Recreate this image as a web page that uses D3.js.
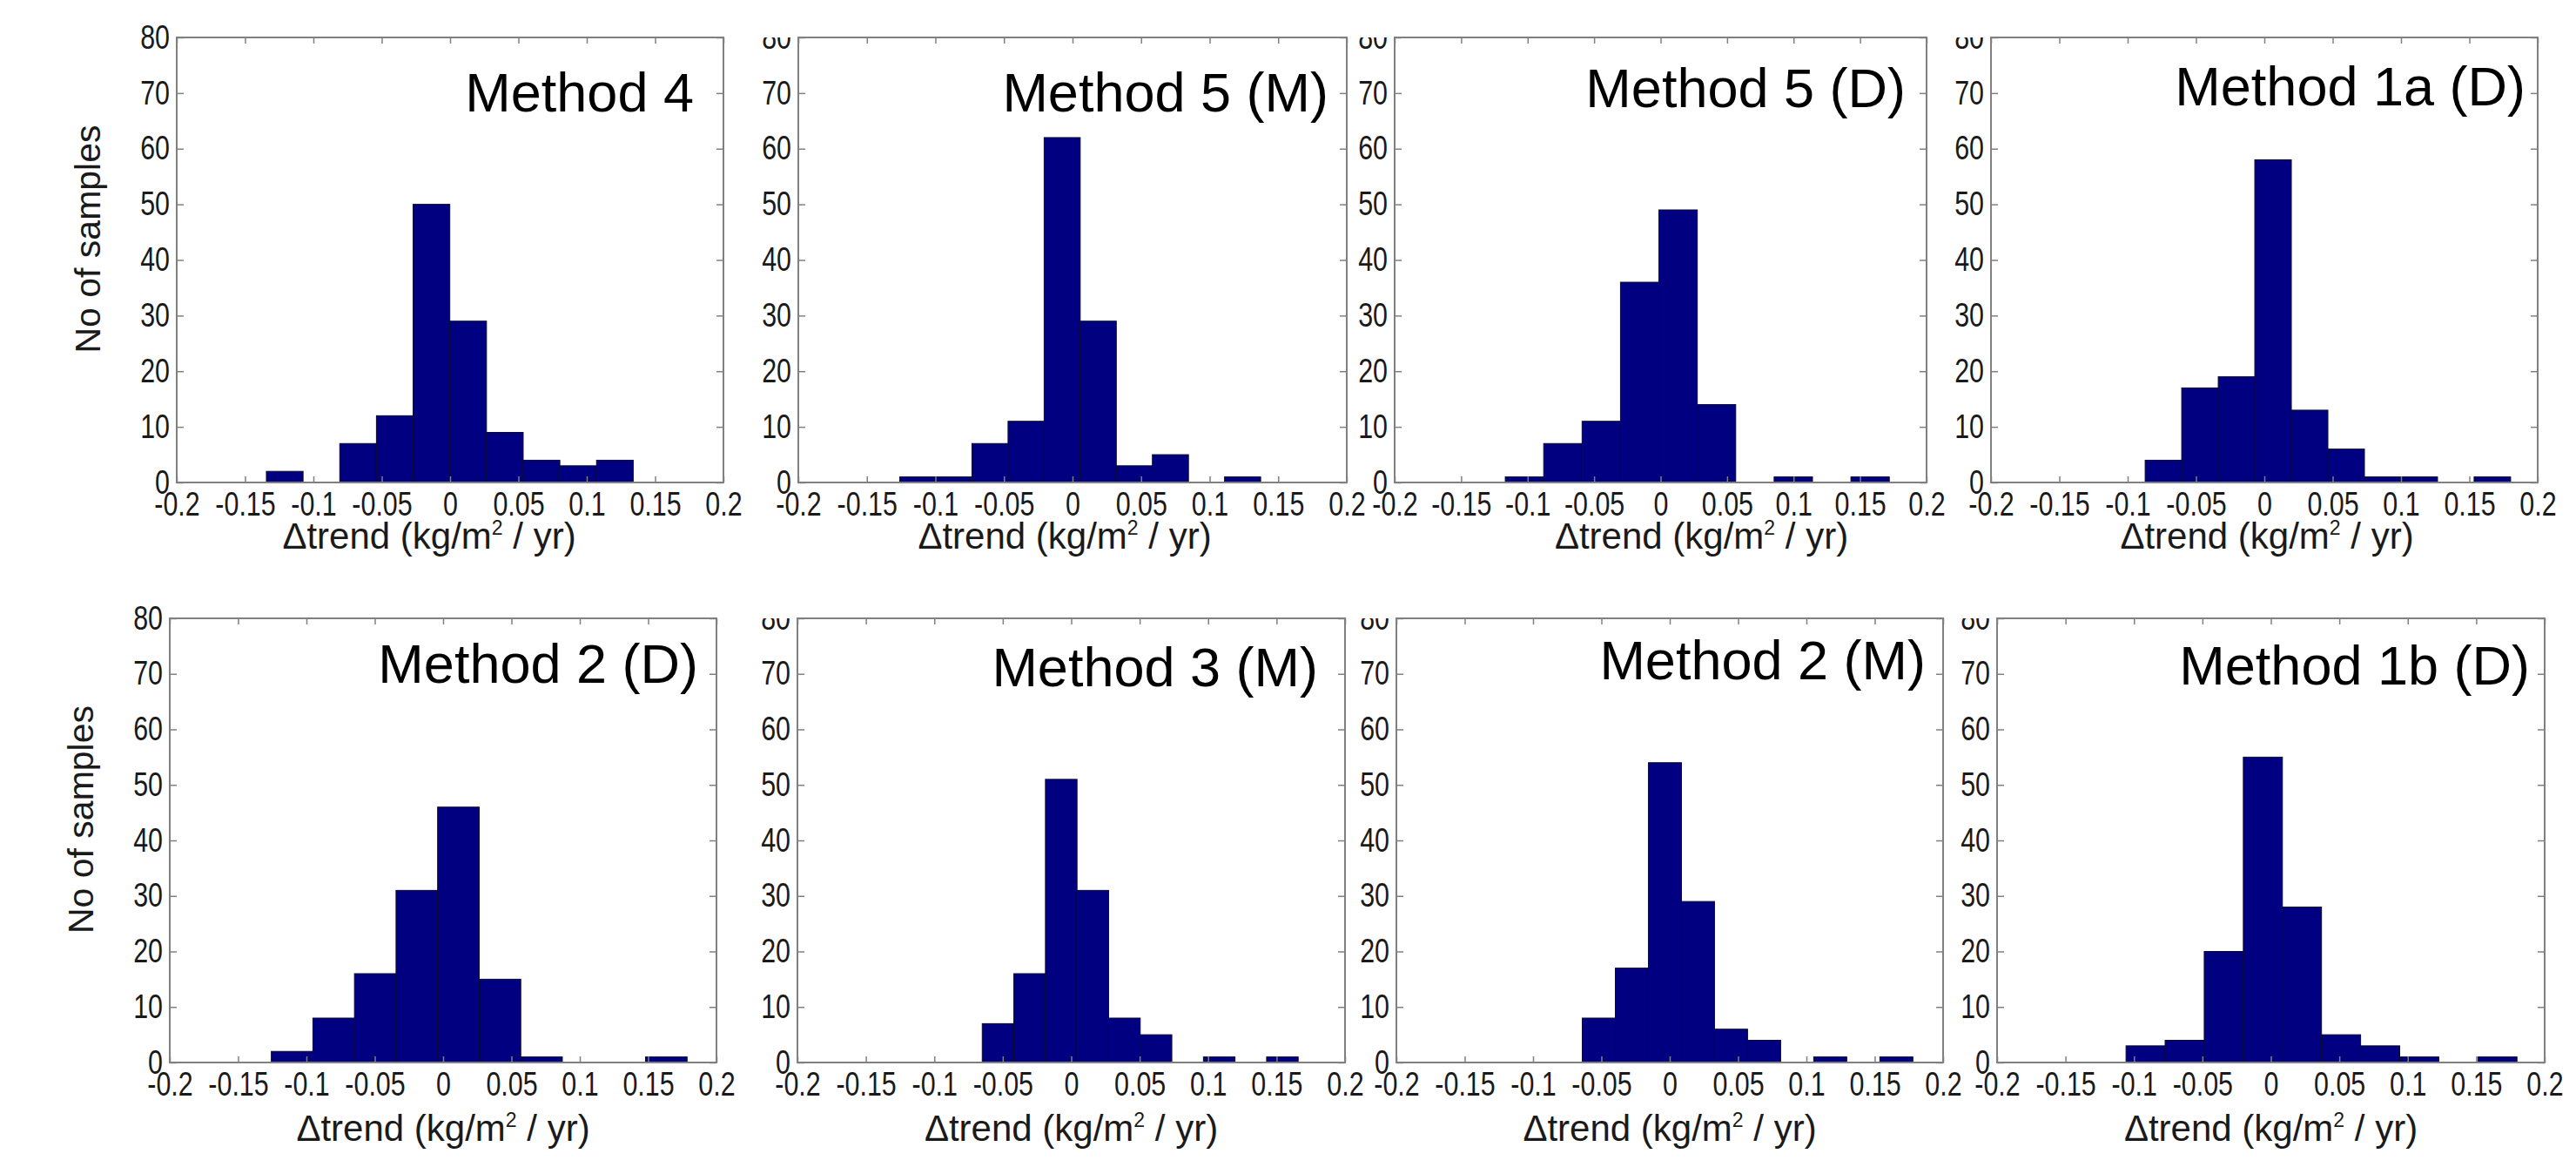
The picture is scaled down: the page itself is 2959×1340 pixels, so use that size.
<!DOCTYPE html>
<html>
<head>
<meta charset="utf-8">
<script src="https://cdn.jsdelivr.net/npm/d3@7/dist/d3.min.js"></script>
<style>
  html, body { margin: 0; padding: 0; background: #fff; }
  svg { display: block; font-family: "Liberation Sans", Arial, sans-serif; }
</style>
</head>
<body>
<svg id="chart" width="2959" height="1340"></svg>
<script>
// panel titles, in reading order
const panelTitles = ["Method 4", "Method 5 (M)", "Method 5 (D)", "Method 1a (D)",
                     "Method 2 (D)", "Method 3 (M)", "Method 2 (M)", "Method 1b (D)"];

// histogram range (10 equal bins between low and high)
const binLow  = [-0.1344, -0.1260, -0.1168, -0.0872, -0.1257, -0.0650, -0.0640, -0.1058];
const binHigh = [ 0.1340,  0.1372,  0.1720,  0.1802,  0.1785,  0.1658,  0.1779,  0.1798];

// counts per bin
const countsM4   = [2, 0, 7, 12, 50, 29, 9, 4, 3, 4];
const countsM5M  = [1, 1, 7, 11, 62, 29, 3, 5, 0, 1];
const countsM5D  = [1, 7, 11, 36, 49, 14, 0, 1, 0, 1];
const countsM1aD = [4, 17, 19, 58, 13, 6, 1, 1, 0, 1];
const countsM2D  = [2, 8, 16, 31, 46, 15, 1, 0, 0, 1];
const countsM3M  = [7, 16, 51, 31, 8, 5, 0, 1, 0, 1];
const countsM2M  = [8, 17, 54, 29, 6, 4, 0, 1, 0, 1];
const countsM1bD = [3, 4, 20, 55, 28, 5, 3, 1, 0, 1];
const panelCounts = [countsM4, countsM5M, countsM5D, countsM1aD,
                     countsM2D, countsM3M, countsM2M, countsM1bD];

const xTickValues = [-0.2, -0.15, -0.1, -0.05, 0, 0.05, 0.1, 0.15, 0.2];
const xTickLabels = ["-0.2", "-0.15", "-0.1", "-0.05", "0", "0.05", "0.1", "0.15", "0.2"];
const yTickValues = [0, 10, 20, 30, 40, 50, 60, 70, 80];

// layout of each axes box on the page (pixels)
const frames = [
  { x0: 203,  x1: 831,  y0: 43,  y1: 554,  titlePad: 34, titleBase: 85, labelShift: -24, labelBase: 76 },
  { x0: 917,  x1: 1547, y0: 43,  y1: 554,  titlePad: 21, titleBase: 85, labelShift: -9,  labelBase: 76 },
  { x0: 1602, x1: 2213, y0: 43,  y1: 554,  titlePad: 24, titleBase: 80, labelShift: 47,  labelBase: 76 },
  { x0: 2287, x1: 2915, y0: 43,  y1: 554,  titlePad: 14, titleBase: 78, labelShift: 3,   labelBase: 76 },
  { x0: 195,  x1: 823,  y0: 710, y1: 1220, titlePad: 21, titleBase: 74, labelShift: 0,   labelBase: 90 },
  { x0: 916,  x1: 1545, y0: 710, y1: 1220, titlePad: 31, titleBase: 78, labelShift: 0,   labelBase: 90 },
  { x0: 1604, x1: 2232, y0: 710, y1: 1220, titlePad: 20, titleBase: 70, labelShift: 0,   labelBase: 90 },
  { x0: 2294, x1: 2923, y0: 710, y1: 1220, titlePad: 17, titleBase: 76, labelShift: 0,   labelBase: 90 }
];

const svg = d3.select("#chart");
svg.append("rect").attr("width", 2959).attr("height", 1340).attr("fill", "#fff");
const defs = svg.append("defs");

const frameColor = "#808080";
const tickFont = 38;
const squeeze = 0.8;   // tick labels in the original are a narrow face
const yPad = 8;

frames.forEach((f, i) => {
  const col = i % 4;
  const x = d3.scaleLinear().domain([-0.2, 0.2]).range([f.x0, f.x1]);
  const y = d3.scaleLinear().domain([0, 80]).range([f.y1, f.y0]);
  const g = svg.append("g");

  // bars
  const lo = binLow[i], hi = binHigh[i];
  const counts = panelCounts[i];
  const w = (hi - lo) / counts.length;
  const bins = counts.map((c, k) => ({ a: lo + k * w, b: lo + (k + 1) * w, c }));
  g.append("g").selectAll("rect")
    .data(bins.filter((d) => d.c > 0))
    .join("rect")
    .attr("x", (d) => x(d.a))
    .attr("width", (d) => x(d.b) - x(d.a))
    .attr("y", (d) => y(d.c))
    .attr("height", (d) => y(0) - y(d.c))
    .attr("fill", "#000080")
    .attr("stroke", "#0a0a30")
    .attr("stroke-width", 1);

  // axes with inward ticks on all four sides
  const styleAxis = (sel) => {
    sel.select(".domain").remove();
    sel.selectAll(".tick line").attr("stroke", frameColor).attr("stroke-width", 1.5);
    sel.selectAll(".tick text").attr("fill", "#1a1a1a").style("font-size", tickFont + "px")
      .style("font-family", "'Liberation Sans', Arial, sans-serif");
  };
  g.append("g").attr("transform", `translate(0,${f.y1})`)
    .call(d3.axisBottom(x).tickValues(xTickValues)
      .tickFormat((d, k) => xTickLabels[k]).tickSizeInner(-7).tickSizeOuter(0).tickPadding(11))
    .call(styleAxis)
    .call((s) => s.selectAll(".tick text").attr("transform", `scale(${squeeze},1)`));
  g.append("g").attr("transform", `translate(0,${f.y0})`)
    .call(d3.axisTop(x).tickValues(xTickValues).tickFormat("").tickSizeInner(-7).tickSizeOuter(0))
    .call(styleAxis);

  const yWrap = g.append("g");
  yWrap.append("g").attr("transform", `translate(${f.x0},0)`)
    .call(d3.axisLeft(y).tickValues(yTickValues).tickFormat(d3.format("d"))
      .tickSizeInner(-8).tickSizeOuter(0).tickPadding(yPad))
    .call(styleAxis)
    .call((s) => s.selectAll(".tick text")
      .attr("x", -yPad / squeeze)
      .attr("transform", `scale(${squeeze},1)`));
  if (col > 0) {
    // the top label of inner panels is cut at the box edge in the original
    const id = "clipY" + i;
    defs.append("clipPath").attr("id", id).append("rect")
      .attr("x", f.x0 - 200).attr("y", f.y0).attr("width", 260).attr("height", f.y1 - f.y0 + 60);
    yWrap.attr("clip-path", `url(#${id})`);
  }
  g.append("g").attr("transform", `translate(${f.x1},0)`)
    .call(d3.axisRight(y).tickValues(yTickValues).tickFormat("").tickSizeInner(-8).tickSizeOuter(0))
    .call(styleAxis);

  // box
  g.append("rect")
    .attr("x", f.x0).attr("y", f.y0)
    .attr("width", f.x1 - f.x0).attr("height", f.y1 - f.y0)
    .attr("fill", "none").attr("stroke", frameColor).attr("stroke-width", 2);

  // title inside the box, top right
  g.append("text")
    .attr("x", f.x1 - f.titlePad).attr("y", f.y0 + f.titleBase)
    .attr("text-anchor", "end")
    .style("font-size", "63px").attr("fill", "#000")
    .text(panelTitles[i]);

  // x label with superscript
  const xl = g.append("text")
    .attr("x", (f.x0 + f.x1) / 2 + f.labelShift).attr("y", f.y1 + f.labelBase)
    .attr("text-anchor", "middle")
    .style("font-size", "42px").attr("fill", "#1a1a1a");
  xl.append("tspan").text("\u0394trend (kg/m");
  xl.append("tspan").attr("dy", -16).style("font-size", "23px").text("2");
  xl.append("tspan").attr("dy", 16).text(" / yr)");

  if (col === 0) {
    const cy = (f.y0 + f.y1) / 2 - 24;
    g.append("text")
      .attr("transform", `translate(${f.x0 - 88},${cy}) rotate(-90)`)
      .attr("text-anchor", "middle")
      .style("font-size", "41px").attr("fill", "#1a1a1a")
      .text("No of samples");
  }
});
</script>
</body>
</html>
